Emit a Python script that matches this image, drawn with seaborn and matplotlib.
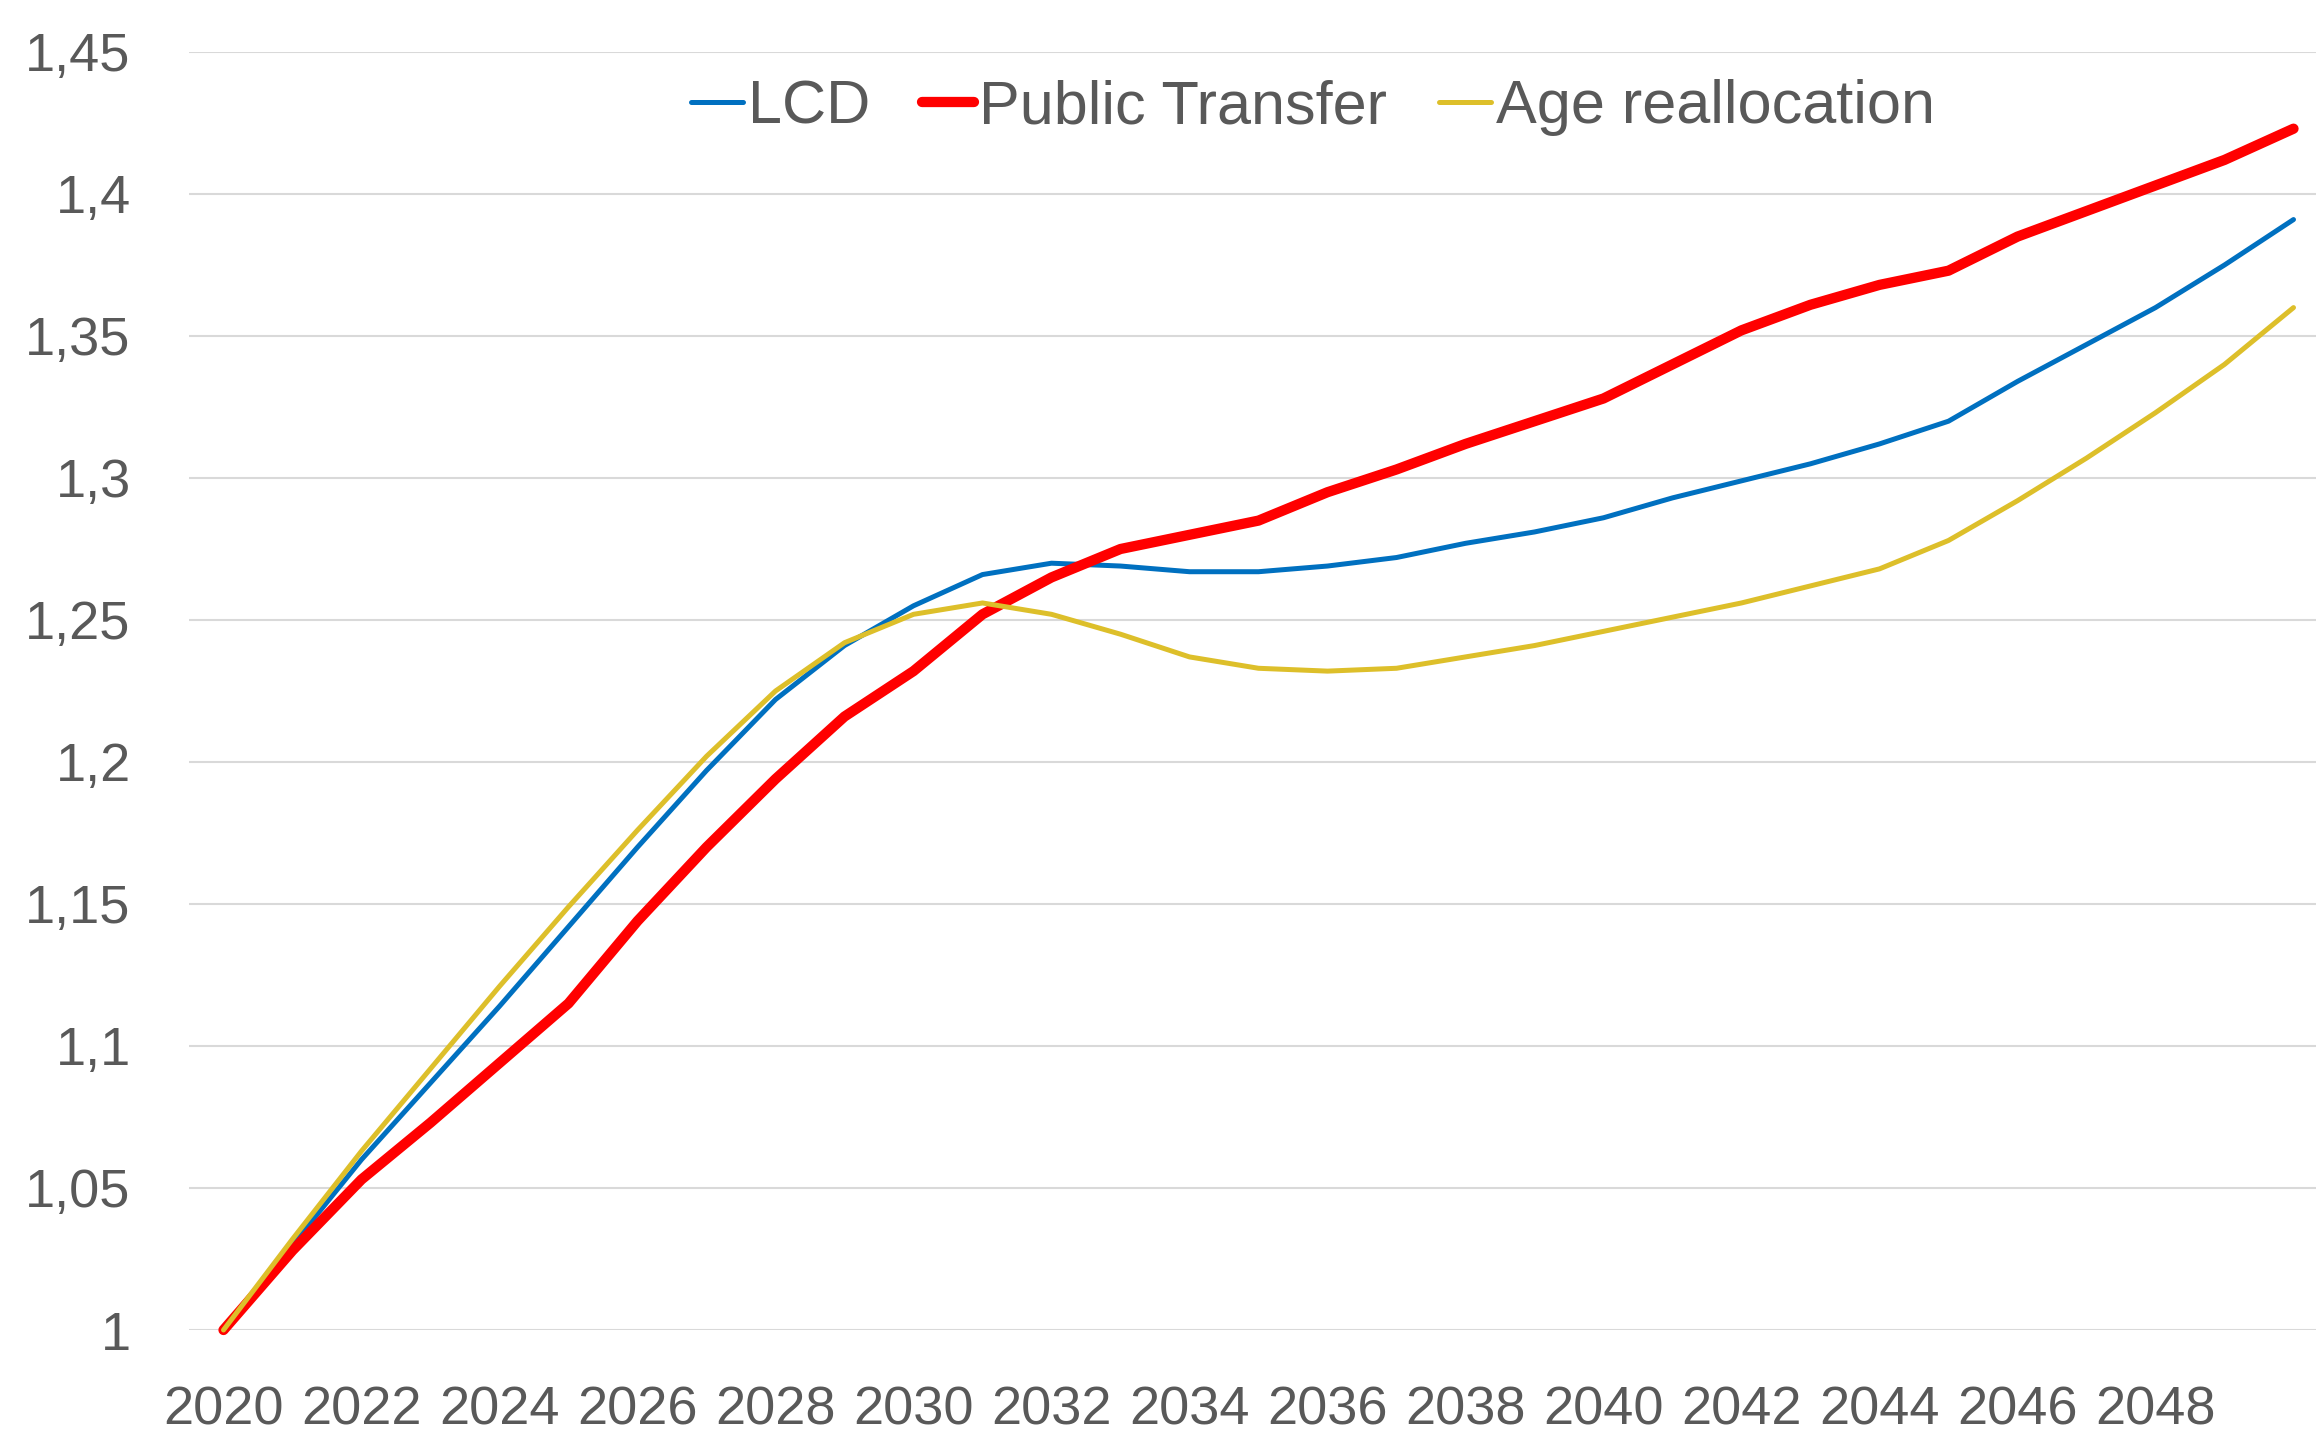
import numpy as np
import pandas as pd
import matplotlib
matplotlib.use("Agg")
import matplotlib.pyplot as plt
import seaborn as sns

# Data
years = list(range(2020, 2051))
lcd = [1.000, 1.030, 1.060, 1.087, 1.114, 1.142, 1.170, 1.197, 1.222, 1.241,
       1.255, 1.266, 1.270, 1.269, 1.267, 1.267, 1.269, 1.272, 1.277, 1.281,
       1.286, 1.293, 1.299, 1.305, 1.312, 1.320, 1.334, 1.347, 1.360, 1.375, 1.391]
public_transfer = [1.000, 1.028, 1.053, 1.073, 1.094, 1.115, 1.144, 1.170, 1.194, 1.216,
                   1.232, 1.252, 1.265, 1.275, 1.280, 1.285, 1.295, 1.303, 1.312, 1.320,
                   1.328, 1.340, 1.352, 1.361, 1.368, 1.373, 1.385, 1.394, 1.403, 1.412, 1.423]
age_realloc = [1.000, 1.032, 1.063, 1.092, 1.121, 1.149, 1.176, 1.202, 1.225, 1.242,
               1.252, 1.256, 1.252, 1.245, 1.237, 1.233, 1.232, 1.233, 1.237, 1.241,
               1.246, 1.251, 1.256, 1.262, 1.268, 1.278, 1.292, 1.307, 1.323, 1.340, 1.360]
series_names = ["LCD", "Public Transfer", "Age reallocation"]
colors = ["#0070C0", "#FF0000", "#DDBF2A"]
widths = [3.6, 7.4, 3.6]

df = pd.DataFrame({"year": years, "LCD": lcd,
                   "Public Transfer": public_transfer,
                   "Age reallocation": age_realloc})

sns.set_style("white")
plt.rcParams["font.family"] = ["Liberation Sans", "DejaVu Sans"]

fig = plt.figure(figsize=(23.16, 14.32), dpi=100)
ax = fig.add_axes([189 / 2316, 102 / 1432, 2139 / 2316, 1278 / 1432])

for name, c, w in zip(series_names, colors, widths):
    sns.lineplot(data=df, x="year", y=name, ax=ax, color=c, linewidth=w,
                 label=name, clip_on=False, solid_capstyle="round")

ax.set_xlim(2019.5, 2050.5)
ax.set_ylim(1.0, 1.45)
ax.set_xticks(range(2020, 2050, 2))
yt = np.arange(1.0, 1.4501, 0.05)
ax.set_yticks(yt)
ax.set_yticklabels([f"{v:.2f}".rstrip("0").rstrip(".").replace(".", ",") for v in yt])
ax.yaxis.grid(True, color="#D9D9D9", linewidth=1.5)
ax.set_axisbelow(True)
for s in ax.spines.values():
    s.set_visible(False)
ax.tick_params(axis="both", length=0, labelsize=39, labelcolor="#595959")
ax.tick_params(axis="y", pad=42)
ax.tick_params(axis="x", pad=40)
ax.set_xlabel("")
ax.set_ylabel("")

leg = ax.legend(loc="center", bbox_to_anchor=(1313 / 2316, 1 - 108 / 1432),
                bbox_transform=fig.transFigure, ncol=3, frameon=False,
                fontsize=44, handlelength=0.85, handletextpad=0.08,
                columnspacing=0.85)
for t in leg.get_texts():
    t.set_color("#595959")

fig.savefig("out.png", dpi=100)
